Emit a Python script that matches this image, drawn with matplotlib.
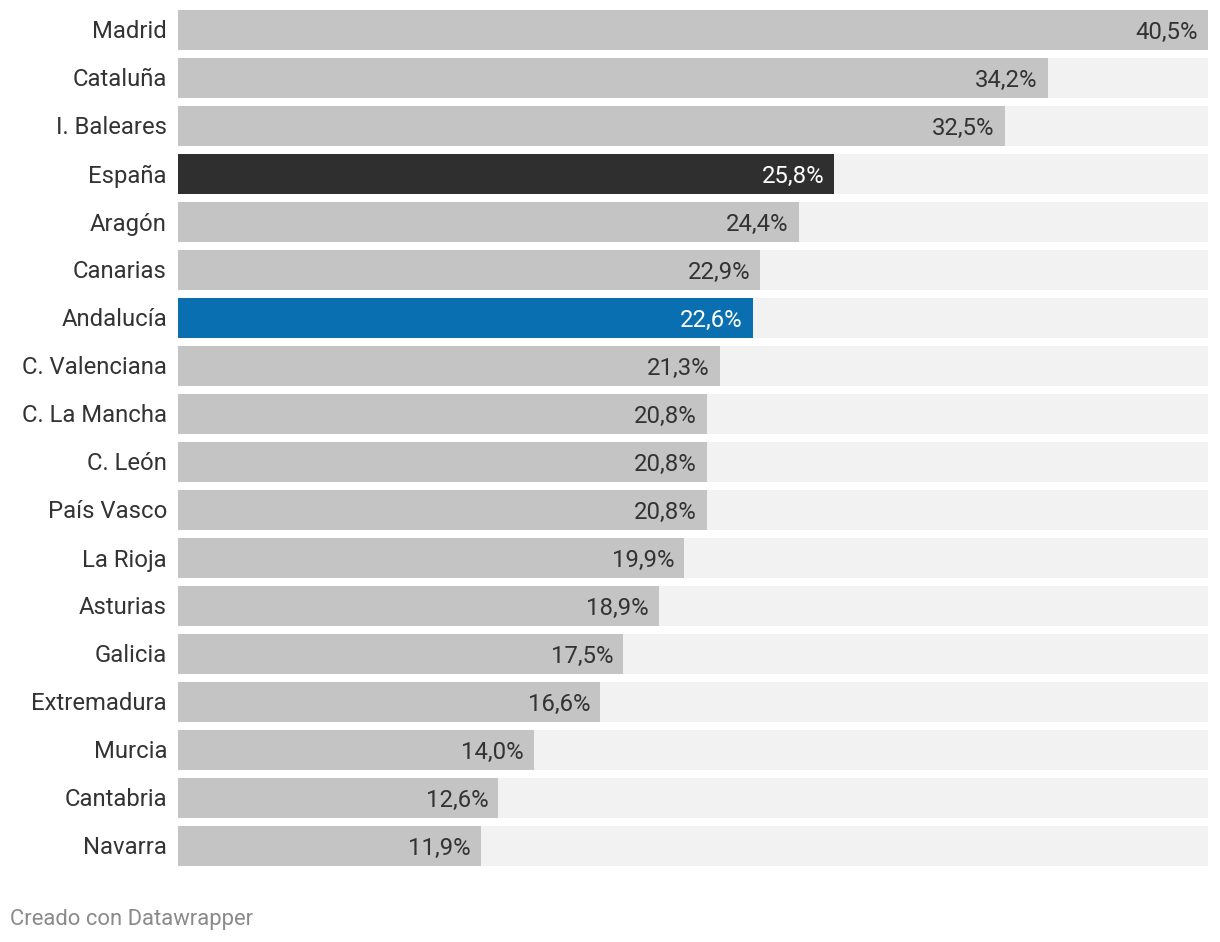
import matplotlib
matplotlib.use("Agg")
import matplotlib.pyplot as plt

# Data
regions = ["Madrid", "Cataluña", "I. Baleares", "España", "Aragón", "Canarias",
           "Andalucía", "C. Valenciana", "C. La Mancha", "C. León", "País Vasco",
           "La Rioja", "Asturias", "Galicia", "Extremadura", "Murcia",
           "Cantabria", "Navarra"]
values = [40.5, 34.2, 32.5, 25.8, 24.4, 22.9, 22.6, 21.3, 20.8, 20.8, 20.8,
          19.9, 18.9, 17.5, 16.6, 14.0, 12.6, 11.9]
highlight = {"España": "#2f2f2f", "Andalucía": "#0a6fb0"}

plt.rcParams["font.family"] = ["Roboto", "DejaVu Sans"]

W, H = 1220, 942
fig = plt.figure(figsize=(W / 100, H / 100), dpi=100)
ax = fig.add_axes([178 / W, 1 - 870 / H, 1030 / W, 864 / H])

xmax = max(values)
ys = list(range(len(regions)))
ax.barh(ys, [xmax] * len(regions), height=40 / 48, color="#f2f2f2", zorder=1)
colors = [highlight.get(r, "#c4c4c4") for r in regions]
ax.barh(ys, values, height=40 / 48, color=colors, zorder=2)

px = xmax / 1030  # data units per pixel
dy = 2 / 48  # nudge text down a couple of pixels
for y, r, v in zip(ys, regions, values):
    tc = "white" if r in highlight else "#333333"
    ax.text(v - 10 * px, y + dy, f"{v:.1f}%".replace(".", ","), ha="right",
            va="center", fontsize=17.2, color=tc, zorder=3)
    ax.text(-11 * px, y + dy, r, ha="right", va="center", fontsize=17.2,
            color="#333333", clip_on=False)

ax.set_xlim(0, xmax)
ax.set_ylim(len(regions) - 0.5, -0.5)
ax.axis("off")

fig.text(10 / W, 1 - 920 / H, "Creado con Datawrapper", ha="left",
         va="center", fontsize=15.8, color="#8a8a8a")

fig.savefig("out.png", dpi=100)
